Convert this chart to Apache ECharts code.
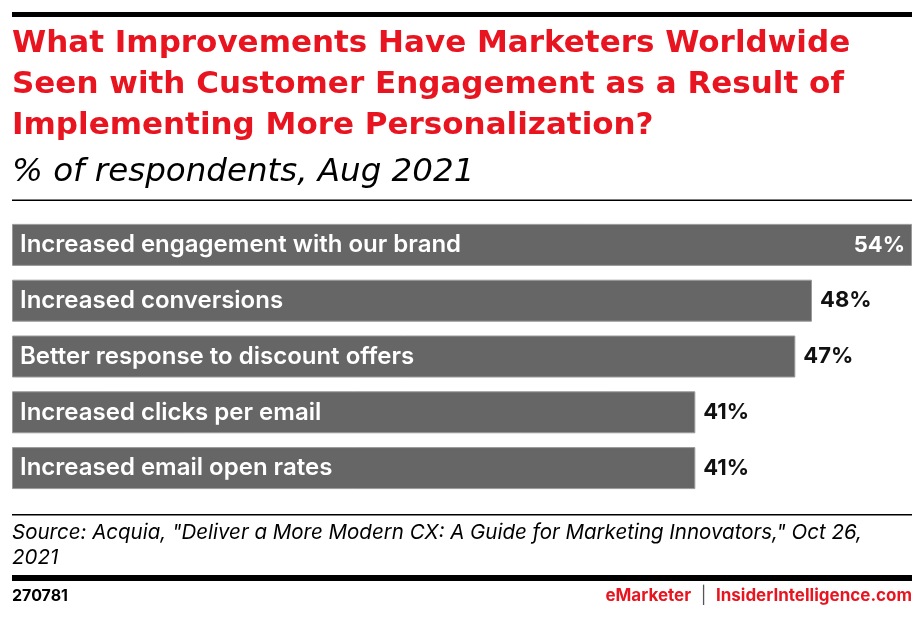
<!DOCTYPE html>
<html>
<head>
<meta charset="utf-8">
<script src="https://cdn.jsdelivr.net/npm/echarts@6/dist/echarts.min.js"></script>
<style>
html,body{margin:0;padding:0;background:#fff;}
#c{width:922px;height:617px;}
</style>
</head>
<body>
<div id="c"></div>
<script>
const categories = [
  "Increased engagement with our brand",
  "Increased conversions",
  "Better response to discount offers",
  "Increased clicks per email",
  "Increased email open rates"
];
const values = [54, 48, 47, 41, 41];
const titleLines = [
  "What Improvements Have Marketers Worldwide",
  "Seen with Customer Engagement as a Result of",
  "Implementing More Personalization?"
];
const subtitle = "% of respondents, Aug 2021";
const sourceLines = [
  "Source: Acquia, \"Deliver a More Modern CX: A Guide for Marketing Innovators,\" Oct 26,",
  "2021"
];
const chartId = "270781";

const maxVal = Math.max(...values);
const chart = echarts.init(document.getElementById('c'), null, {renderer: 'canvas'});
const FONT = 'Inter, sans-serif';
const WIDE = '"DejaVu Sans", sans-serif';

chart.setOption({
  animation: false,
  backgroundColor: '#fff',
  grid: {left: 12, width: 900, top: 217, height: 279, containLabel: false},
  xAxis: {type: 'value', min: 0, max: maxVal, show: false},
  yAxis: {type: 'category', data: categories, inverse: true, show: false},
  series: [
    {
      type: 'bar',
      data: values,
      barWidth: 42,
      itemStyle: {color: '#666666', borderColor: '#9a9a9a', borderWidth: 1},
      label: {
        show: true, position: 'insideLeft', distance: 8,
        formatter: p => p.name,
        color: '#fff', fontSize: 24, fontWeight: 600, fontFamily: FONT
      },
      silent: true
    },
    {
      type: 'bar',
      data: values.map(v => ({
        value: v,
        label: v === maxVal ? {position: 'insideRight', color: '#fff', distance: 7} : {position: 'right', color: '#111', distance: 8}
      })),
      barWidth: 42,
      barGap: '-100%',
      itemStyle: {color: 'rgba(0,0,0,0)'},
      label: {
        show: true,
        formatter: p => p.value + '%',
        fontSize: 22, fontWeight: 700, fontFamily: FONT
      },
      silent: true
    }
  ],
  graphic: [
    {type: 'rect', shape: {x: 12, y: 12, width: 900, height: 5}, style: {fill: '#000'}},
    ...titleLines.map((t, i) => ({
      type: 'text', left: 12, top: 28 + i * 41,
      style: {text: t, fill: '#e8141f', font: 'bold 31px ' + WIDE}
    })),
    {type: 'text', left: 12, top: 156,
      style: {text: subtitle, fill: '#000', font: 'italic 32.5px ' + WIDE}},
    {type: 'rect', shape: {x: 12, y: 199.5, width: 900, height: 1.5}, style: {fill: '#000'}},
    {type: 'rect', shape: {x: 12, y: 514, width: 900, height: 1.5}, style: {fill: '#000'}},
    ...sourceLines.map((t, i) => ({
      type: 'text', left: 12, top: 523 + i * 25,
      style: {text: t, fill: '#000', font: 'italic 20.5px ' + FONT}
    })),
    {type: 'rect', shape: {x: 12, y: 575, width: 900, height: 6}, style: {fill: '#000'}},
    {type: 'text', left: 12, top: 588,
      style: {text: chartId, fill: '#000', font: 'bold 16px ' + FONT}},
    {type: 'text', right: 10, top: 587,
      style: {
        text: '{a|eMarketer}{s|  |  }{a|InsiderIntelligence.com}',
        rich: {
          a: {fill: '#e8141f', font: 'bold 17px ' + FONT, fontWeight: 'bold', fontSize: 17, color: '#e8141f', fontFamily: FONT},
          s: {fill: '#555', color: '#555', fontSize: 17, fontFamily: FONT}
        }
      }}
  ]
});
</script>
</body>
</html>
